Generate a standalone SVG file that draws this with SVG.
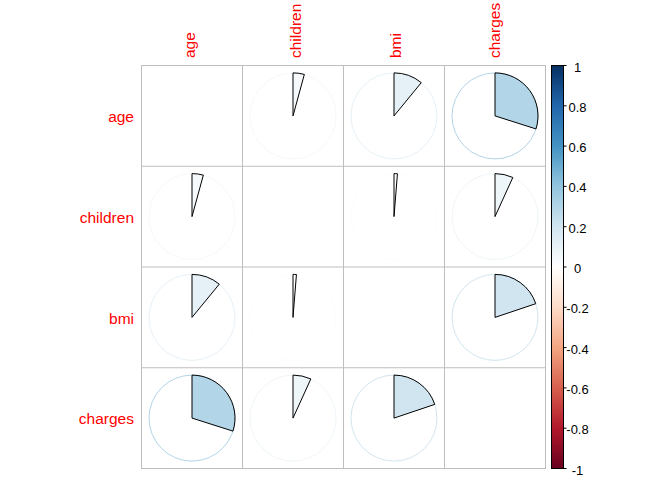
<svg xmlns="http://www.w3.org/2000/svg" width="672" height="480" viewBox="0 0 672 480">
<style>
.lbl{font-family:"Liberation Sans",Arial,sans-serif;font-size:15.5px;fill:#FF0000}
.leg{font-family:"Liberation Sans",Arial,sans-serif;font-size:13px;fill:#000000;text-anchor:middle}
.grid{stroke:#BEBEBE;stroke-width:1;fill:none}
.wedge{stroke:#000000;stroke-width:1}
.ring{fill:none;stroke-width:1}
.tick{stroke:#000000;stroke-width:1}
</style>
<defs>
<linearGradient id="rdbu" x1="0" y1="0" x2="0" y2="1">
<stop offset="0" stop-color="#053061"/>
<stop offset="0.1" stop-color="#2166AC"/>
<stop offset="0.2" stop-color="#4393C3"/>
<stop offset="0.3" stop-color="#92C5DE"/>
<stop offset="0.4" stop-color="#D1E5F0"/>
<stop offset="0.5" stop-color="#FFFFFF"/>
<stop offset="0.6" stop-color="#FDDBC7"/>
<stop offset="0.7" stop-color="#F4A582"/>
<stop offset="0.8" stop-color="#D6604D"/>
<stop offset="0.9" stop-color="#B2182B"/>
<stop offset="1" stop-color="#67001F"/>
</linearGradient>
</defs>
<rect width="672" height="480" fill="#FFFFFF"/>
<g id="grid">
<rect class="grid" x="141.5" y="65.5" width="404" height="403"/>
<line class="grid" x1="242.5" y1="65.5" x2="242.5" y2="468.5"/>
<line class="grid" x1="343.5" y1="65.5" x2="343.5" y2="468.5"/>
<line class="grid" x1="444.5" y1="65.5" x2="444.5" y2="468.5"/>
<line class="grid" x1="141.5" y1="166.25" x2="545.5" y2="166.25"/>
<line class="grid" x1="141.5" y1="267" x2="545.5" y2="267"/>
<line class="grid" x1="141.5" y1="367.75" x2="545.5" y2="367.75"/>
</g>
<g id="col-labels">
<text class="lbl" transform="translate(194.5,58) rotate(-90)">age</text>
<text class="lbl" transform="translate(300.5,58) rotate(-90)">children</text>
<text class="lbl" transform="translate(401,58) rotate(-90)">bmi</text>
<text class="lbl" transform="translate(499.5,58) rotate(-90)">charges</text>
</g>
<g id="row-labels" text-anchor="end">
<text class="lbl" x="134" y="122.1">age</text>
<text class="lbl" x="134" y="222.8">children</text>
<text class="lbl" x="134" y="323.6">bmi</text>
<text class="lbl" x="134" y="424.3">charges</text>
</g>
<g id="pie-age-children">
<circle class="ring" cx="293" cy="115.9" r="43" stroke="#F5F9FC"/>
<path class="wedge" fill="#F5F9FC" d="M293,115.9 V72.9 A43,43 0 0 1 304.35,74.42 Z"/>
</g>
<g id="pie-age-bmi">
<circle class="ring" cx="394" cy="115.9" r="43" stroke="#E6F1F7"/>
<path class="wedge" fill="#E6F1F7" d="M394,115.9 V72.9 A43,43 0 0 1 421.27,82.66 Z"/>
</g>
<g id="pie-age-charges">
<circle class="ring" cx="495" cy="115.9" r="43" stroke="#B2D5E7"/>
<path class="wedge" fill="#B2D5E7" d="M495,115.9 V72.9 A43,43 0 0 1 535.98,128.93 Z"/>
</g>
<g id="pie-children-age">
<circle class="ring" cx="192" cy="216.6" r="43" stroke="#F5F9FC"/>
<path class="wedge" fill="#F5F9FC" d="M192,216.6 V173.6 A43,43 0 0 1 203.35,175.12 Z"/>
</g>
<g id="pie-children-bmi">
<circle class="ring" cx="394" cy="216.6" r="43" stroke="#FCFDFE"/>
<path class="wedge" fill="#FCFDFE" d="M394,216.6 V173.6 A43,43 0 0 1 397.45,173.74 Z"/>
</g>
<g id="pie-children-charges">
<circle class="ring" cx="495" cy="216.6" r="43" stroke="#EFF6FA"/>
<path class="wedge" fill="#EFF6FA" d="M495,216.6 V173.6 A43,43 0 0 1 512.82,177.47 Z"/>
</g>
<g id="pie-bmi-age">
<circle class="ring" cx="192" cy="317.4" r="43" stroke="#E6F1F7"/>
<path class="wedge" fill="#E6F1F7" d="M192,317.4 V274.4 A43,43 0 0 1 219.27,284.16 Z"/>
</g>
<g id="pie-bmi-children">
<circle class="ring" cx="293" cy="317.4" r="43" stroke="#FCFDFE"/>
<path class="wedge" fill="#FCFDFE" d="M293,317.4 V274.4 A43,43 0 0 1 296.45,274.54 Z"/>
</g>
<g id="pie-bmi-charges">
<circle class="ring" cx="495" cy="317.4" r="43" stroke="#D1E5F0"/>
<path class="wedge" fill="#D1E5F0" d="M495,317.4 V274.4 A43,43 0 0 1 535.75,303.68 Z"/>
</g>
<g id="pie-charges-age">
<circle class="ring" cx="192" cy="418.1" r="43" stroke="#B2D5E7"/>
<path class="wedge" fill="#B2D5E7" d="M192,418.1 V375.1 A43,43 0 0 1 232.98,431.13 Z"/>
</g>
<g id="pie-charges-children">
<circle class="ring" cx="293" cy="418.1" r="43" stroke="#EFF6FA"/>
<path class="wedge" fill="#EFF6FA" d="M293,418.1 V375.1 A43,43 0 0 1 310.82,378.97 Z"/>
</g>
<g id="pie-charges-bmi">
<circle class="ring" cx="394" cy="418.1" r="43" stroke="#D1E5F0"/>
<path class="wedge" fill="#D1E5F0" d="M394,418.1 V375.1 A43,43 0 0 1 434.75,404.38 Z"/>
</g>
<g id="colorbar">
<rect x="551.5" y="65.5" width="12" height="403" fill="url(#rdbu)" stroke="#000000" stroke-width="1"/>
<g class="tick">
<line x1="563.5" y1="65.5" x2="566.5" y2="65.5"/>
<line x1="563.5" y1="105.8" x2="566.5" y2="105.8"/>
<line x1="563.5" y1="146.1" x2="566.5" y2="146.1"/>
<line x1="563.5" y1="186.4" x2="566.5" y2="186.4"/>
<line x1="563.5" y1="226.7" x2="566.5" y2="226.7"/>
<line x1="563.5" y1="267" x2="566.5" y2="267"/>
<line x1="563.5" y1="307.3" x2="566.5" y2="307.3"/>
<line x1="563.5" y1="347.6" x2="566.5" y2="347.6"/>
<line x1="563.5" y1="387.9" x2="566.5" y2="387.9"/>
<line x1="563.5" y1="428.2" x2="566.5" y2="428.2"/>
<line x1="563.5" y1="468.5" x2="566.5" y2="468.5"/>
</g>
<text class="leg" x="577.5" y="71.5">1</text>
<text class="leg" x="577.5" y="111.8">0.8</text>
<text class="leg" x="577.5" y="152.1">0.6</text>
<text class="leg" x="577.5" y="192.4">0.4</text>
<text class="leg" x="577.5" y="232.7">0.2</text>
<text class="leg" x="577.5" y="273">0</text>
<text class="leg" x="577.5" y="313.3">-0.2</text>
<text class="leg" x="577.5" y="353.6">-0.4</text>
<text class="leg" x="577.5" y="393.9">-0.6</text>
<text class="leg" x="577.5" y="434.2">-0.8</text>
<text class="leg" x="577.5" y="474.5">-1</text>
</g>
</svg>
